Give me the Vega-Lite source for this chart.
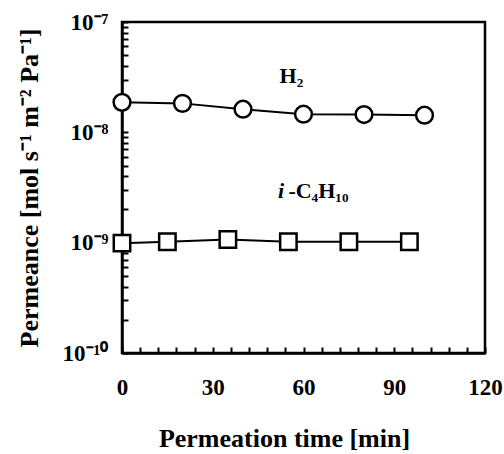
{
  "$schema": "https://vega.github.io/schema/vega-lite/v6.json",
  "width": 363,
  "height": 331,
  "autosize": {"type": "none"},
  "padding": {"left": 122, "top": 22, "right": 19, "bottom": 101},
  "background": "white",
  "config": {
    "view": {"stroke": "black", "strokeWidth": 2.5},
    "font": "Liberation Serif",
    "axis": {
      "domainColor": "black",
      "domainWidth": 2.5,
      "tickColor": "black",
      "tickWidth": 2,
      "grid": false,
      "labelFont": "Liberation Serif",
      "labelFontWeight": "bold",
      "labelFontSize": 23,
      "labelColor": "black",
      "titleFont": "Liberation Serif",
      "titleFontWeight": "bold",
      "titleFontSize": 26,
      "titleColor": "black"
    }
  },
  "datasets": {
    "pts": [
      {"series": "H2", "time": 0, "permeance": 1.87e-8},
      {"series": "H2", "time": 20, "permeance": 1.83e-8},
      {"series": "H2", "time": 40, "permeance": 1.62e-8},
      {"series": "H2", "time": 60, "permeance": 1.46e-8},
      {"series": "H2", "time": 80, "permeance": 1.45e-8},
      {"series": "H2", "time": 100, "permeance": 1.43e-8},
      {"series": "i-C4H10", "time": 0, "permeance": 0.99e-9},
      {"series": "i-C4H10", "time": 15, "permeance": 1.02e-9},
      {"series": "i-C4H10", "time": 35, "permeance": 1.07e-9},
      {"series": "i-C4H10", "time": 55, "permeance": 1.02e-9},
      {"series": "i-C4H10", "time": 75, "permeance": 1.02e-9},
      {"series": "i-C4H10", "time": 95, "permeance": 1.02e-9}
    ],
    "labels": [
      {"text": "H₂", "time": 56, "permeance": 3.23e-8, "kind": "h2"},
      {"text": "i", "time": 51.6, "permeance": 2.97e-9, "kind": "i"},
      {"text": "-C₄H₁₀", "time": 55.0, "permeance": 2.97e-9, "kind": "c4"}
    ]
  },
  "layer": [
    {
      "data": {"name": "pts"},
      "mark": {"type": "line", "color": "black", "strokeWidth": 2},
      "encoding": {
        "x": {
          "field": "time", "type": "quantitative",
          "scale": {"domain": [0, 120], "nice": false, "zero": false},
          "axis": {
            "title": "Permeation time [min]",
            "titlePadding": 26,
            "titleX": 162,
            "values": [0,6,12,18,24,30,36,42,48,54,60,66,72,78,84,90,96,102,108,114,120],
            "tickCount": 200,
            "format": "d",
            "labelExpr": "indexof([0,30,60,90,120], datum.value) >= 0 ? datum.label : ''",
            "labelOverlap": false,
            "tickSize": -6,
            "labelPadding": 29,
            "labelFlush": false
          }
        },
        "y": {
          "field": "permeance", "type": "quantitative",
          "scale": {"type": "log", "domain": [1e-10, 1e-7], "nice": false},
          "axis": {
            "title": "Permeance [mol s⁻¹ m⁻² Pa⁻¹]",
            "titlePadding": 20,
            "values": [1e-10,2e-10,3e-10,4e-10,5e-10,6e-10,7e-10,8e-10,9e-10,1e-9,2e-9,3e-9,4e-9,5e-9,6e-9,7e-9,8e-9,9e-9,1e-8,2e-8,3e-8,4e-8,5e-8,6e-8,7e-8,8e-8,9e-8,1e-7],
            "tickCount": 200,
            "labelExpr": "abs(datum.value/1e-7-1) < 0.01 ? '10⁻⁷' : abs(datum.value/1e-8-1) < 0.01 ? '10⁻⁸' : abs(datum.value/1e-9-1) < 0.01 ? '10⁻⁹' : abs(datum.value/1e-10-1) < 0.01 ? '10⁻¹⁰' : ''",
            "labelOverlap": false,
            "tickSize": -6,
            "labelPadding": 20,
            "labelFlush": false
          }
        },
        "detail": {"field": "series"}
      }
    },
    {
      "data": {"name": "pts"},
      "mark": {"type": "point", "filled": true, "fill": "white", "stroke": "black", "strokeWidth": 2.5, "opacity": 1},
      "encoding": {
        "x": {"field": "time", "type": "quantitative"},
        "y": {"field": "permeance", "type": "quantitative"},
        "shape": {
          "field": "series", "type": "nominal",
          "scale": {"domain": ["H2", "i-C4H10"], "range": ["circle", "square"]},
          "legend": null
        },
        "size": {
          "field": "series", "type": "nominal",
          "scale": {"domain": ["H2", "i-C4H10"], "range": [280, 270]},
          "legend": null
        }
      }
    },
    {
      "data": {"name": "labels"},
      "transform": [{"filter": "datum.kind == 'h2'"}],
      "mark": {"type": "text", "font": "Liberation Serif", "fontSize": 22, "fontWeight": "bold", "color": "black", "baseline": "middle", "align": "center"},
      "encoding": {
        "x": {"field": "time", "type": "quantitative"},
        "y": {"field": "permeance", "type": "quantitative"},
        "text": {"field": "text"}
      }
    },
    {
      "data": {"name": "labels"},
      "transform": [{"filter": "datum.kind == 'i'"}],
      "mark": {"type": "text", "font": "Liberation Serif", "fontSize": 22, "fontWeight": "bold", "fontStyle": "italic", "color": "black", "baseline": "middle", "align": "left"},
      "encoding": {
        "x": {"field": "time", "type": "quantitative"},
        "y": {"field": "permeance", "type": "quantitative"},
        "text": {"field": "text"}
      }
    },
    {
      "data": {"name": "labels"},
      "transform": [{"filter": "datum.kind == 'c4'"}],
      "mark": {"type": "text", "font": "Liberation Serif", "fontSize": 22, "fontWeight": "bold", "color": "black", "baseline": "middle", "align": "left"},
      "encoding": {
        "x": {"field": "time", "type": "quantitative"},
        "y": {"field": "permeance", "type": "quantitative"},
        "text": {"field": "text"}
      }
    }
  ]
}
